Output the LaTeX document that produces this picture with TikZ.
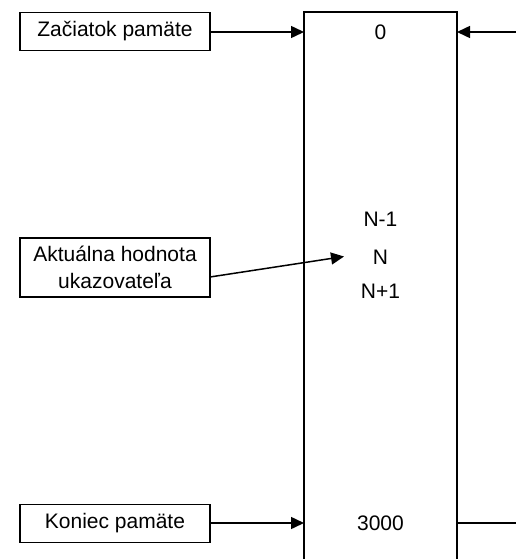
\documentclass[tikz,border=0pt]{standalone}
\usepackage{fontspec}
\setmainfont{Liberation Sans}
\usetikzlibrary{arrows.meta}
\begin{document}
\begin{tikzpicture}[x=1pt,y=-1pt,
  lbl/.style={draw,line width=1.5pt,minimum width=190pt,minimum height=38pt,inner sep=0pt,font=\fontsize{21}{24}\selectfont,align=center},
  val/.style={font=\fontsize{21}{24}\selectfont,inner sep=0pt},
  ln/.style={line width=1.5pt},
  arr/.style={ln,-{Triangle[length=13pt,width=12pt]}}]
\useasboundingbox (0,0) rectangle (516,559);
% memory block (open at bottom)
\draw[line width=1.8pt] (304,570) -- (304,12) -- (457,12) -- (457,570);
\coordinate (mtl) at (304,32);
\coordinate (mtr) at (457,32);
\coordinate (mbl) at (304,523);
\coordinate (mbr) at (457,523);
\coordinate (rtop) at (516,32);
\coordinate (rbot) at (516,523);
\coordinate (ntip) at (344,256.5);
\node[val] (v0) at (380.5,32) {0};
\node[val] (vn1) at (380.5,219) {N-1};
\node[val] (vn) at (380.5,257) {N};
\node[val] (vnp) at (380.5,291) {N+1};
\node[val] (v3000) at (380.5,523) {3000};
\node[lbl] (start) at (115,31.5) {Začiatok pamäte};
\node[lbl,minimum height=59pt,font=\fontsize{21}{27}\selectfont] (ptr) at (115,267.5) {Aktuálna hodnota\\ukazovateľa};
\node[lbl] (end) at (115,523.5) {Koniec pamäte};
\draw[arr] (start.east |- mtl) -- (mtl);
\draw[arr] (rtop) -- (mtr);
\draw[arr] (210,277) -- (ntip);
\draw[arr] (end.east |- mbl) -- (mbl);
\draw[ln] (mbr) -- (rbot);
\end{tikzpicture}
\end{document}
